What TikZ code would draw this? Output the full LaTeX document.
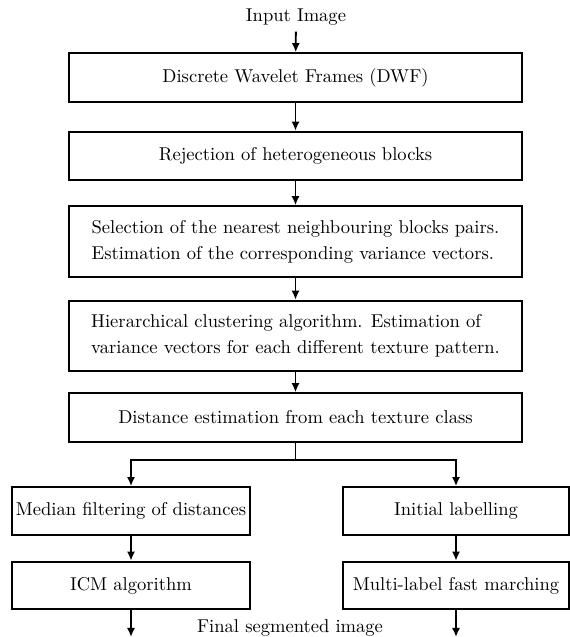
\documentclass[tikz,border=0pt]{standalone}
\usetikzlibrary{arrows.meta}

\begin{document}
\begin{tikzpicture}
[
	x=0.555pt,
	y=-0.555pt,
	>={Latex[length=5pt,width=4.5pt]},
	every node/.style={font=\fontsize{10.3pt}{12.4pt}\selectfont},
	stage/.style={draw,line width=1.1pt,minimum width=251.4pt,minimum height=27pt,inner sep=2pt},
	twoline/.style={stage,align=left,minimum height=39.2pt,font=\fontsize{10.3pt}{14.5pt}\selectfont},
	leftbox/.style={draw,line width=1.1pt,minimum width=132.1pt,minimum height=26.5pt,inner sep=1pt},
	rightbox/.style={draw,line width=1.1pt,minimum width=125.4pt,minimum height=26.5pt,inner sep=1pt},
	link/.style={line width=1pt},
	flow/.style={link,->}
]

	\useasboundingbox (0,0) rectangle (570,637);

	% main column
	\node (input) at (296,17) {Input Image};
	\node[stage] (dwf) at (295.5,77.5) {Discrete Wavelet Frames (DWF)};
	\node[stage] (rej) at (295.5,156) {Rejection of heterogeneous blocks};
	\node[twoline] (sel) at (295.5,241.5) {Selection of the nearest neighbouring blocks pairs.\\Estimation of the corresponding variance vectors.};
	\node[twoline] (hier) at (295.5,336) {Hierarchical clustering algorithm. Estimation of\\variance vectors for each different texture pattern.};
	\node[stage] (dist) at (295.5,417.5) {Distance estimation from each texture class};

	\draw[flow] (input) -- (dwf);
	\draw[flow] (dwf) -- (rej);
	\draw[flow] (rej) -- (sel);
	\draw[flow] (sel) -- (hier);
	\draw[flow] (hier) -- (dist);

	% two branches
	\node[leftbox] (median) at (131,511) {Median filtering of distances};
	\node[leftbox] (icm) at (131,585.5) {ICM algorithm};
	\node[rightbox] (initlab) at (456,511) {Initial labelling};
	\node[rightbox] (fastmarch) at (456,585.5) {Multi-label fast marching};

	\coordinate (split) at (295.5,460);
	\draw[link] (dist) -- (split);
	\draw[flow] (split) -| (median);
	\draw[flow] (split) -| (initlab);
	\draw[flow] (median) -- (icm);
	\draw[flow] (initlab) -- (fastmarch);

	% output
	\node (final) at (290,628) {Final segmented image};
	\coordinate (leftend) at (131,637);
	\coordinate (rightend) at (456,637);
	\draw[flow] (icm) -- (leftend);
	\draw[flow] (fastmarch) -- (rightend);

\end{tikzpicture}
\end{document}
